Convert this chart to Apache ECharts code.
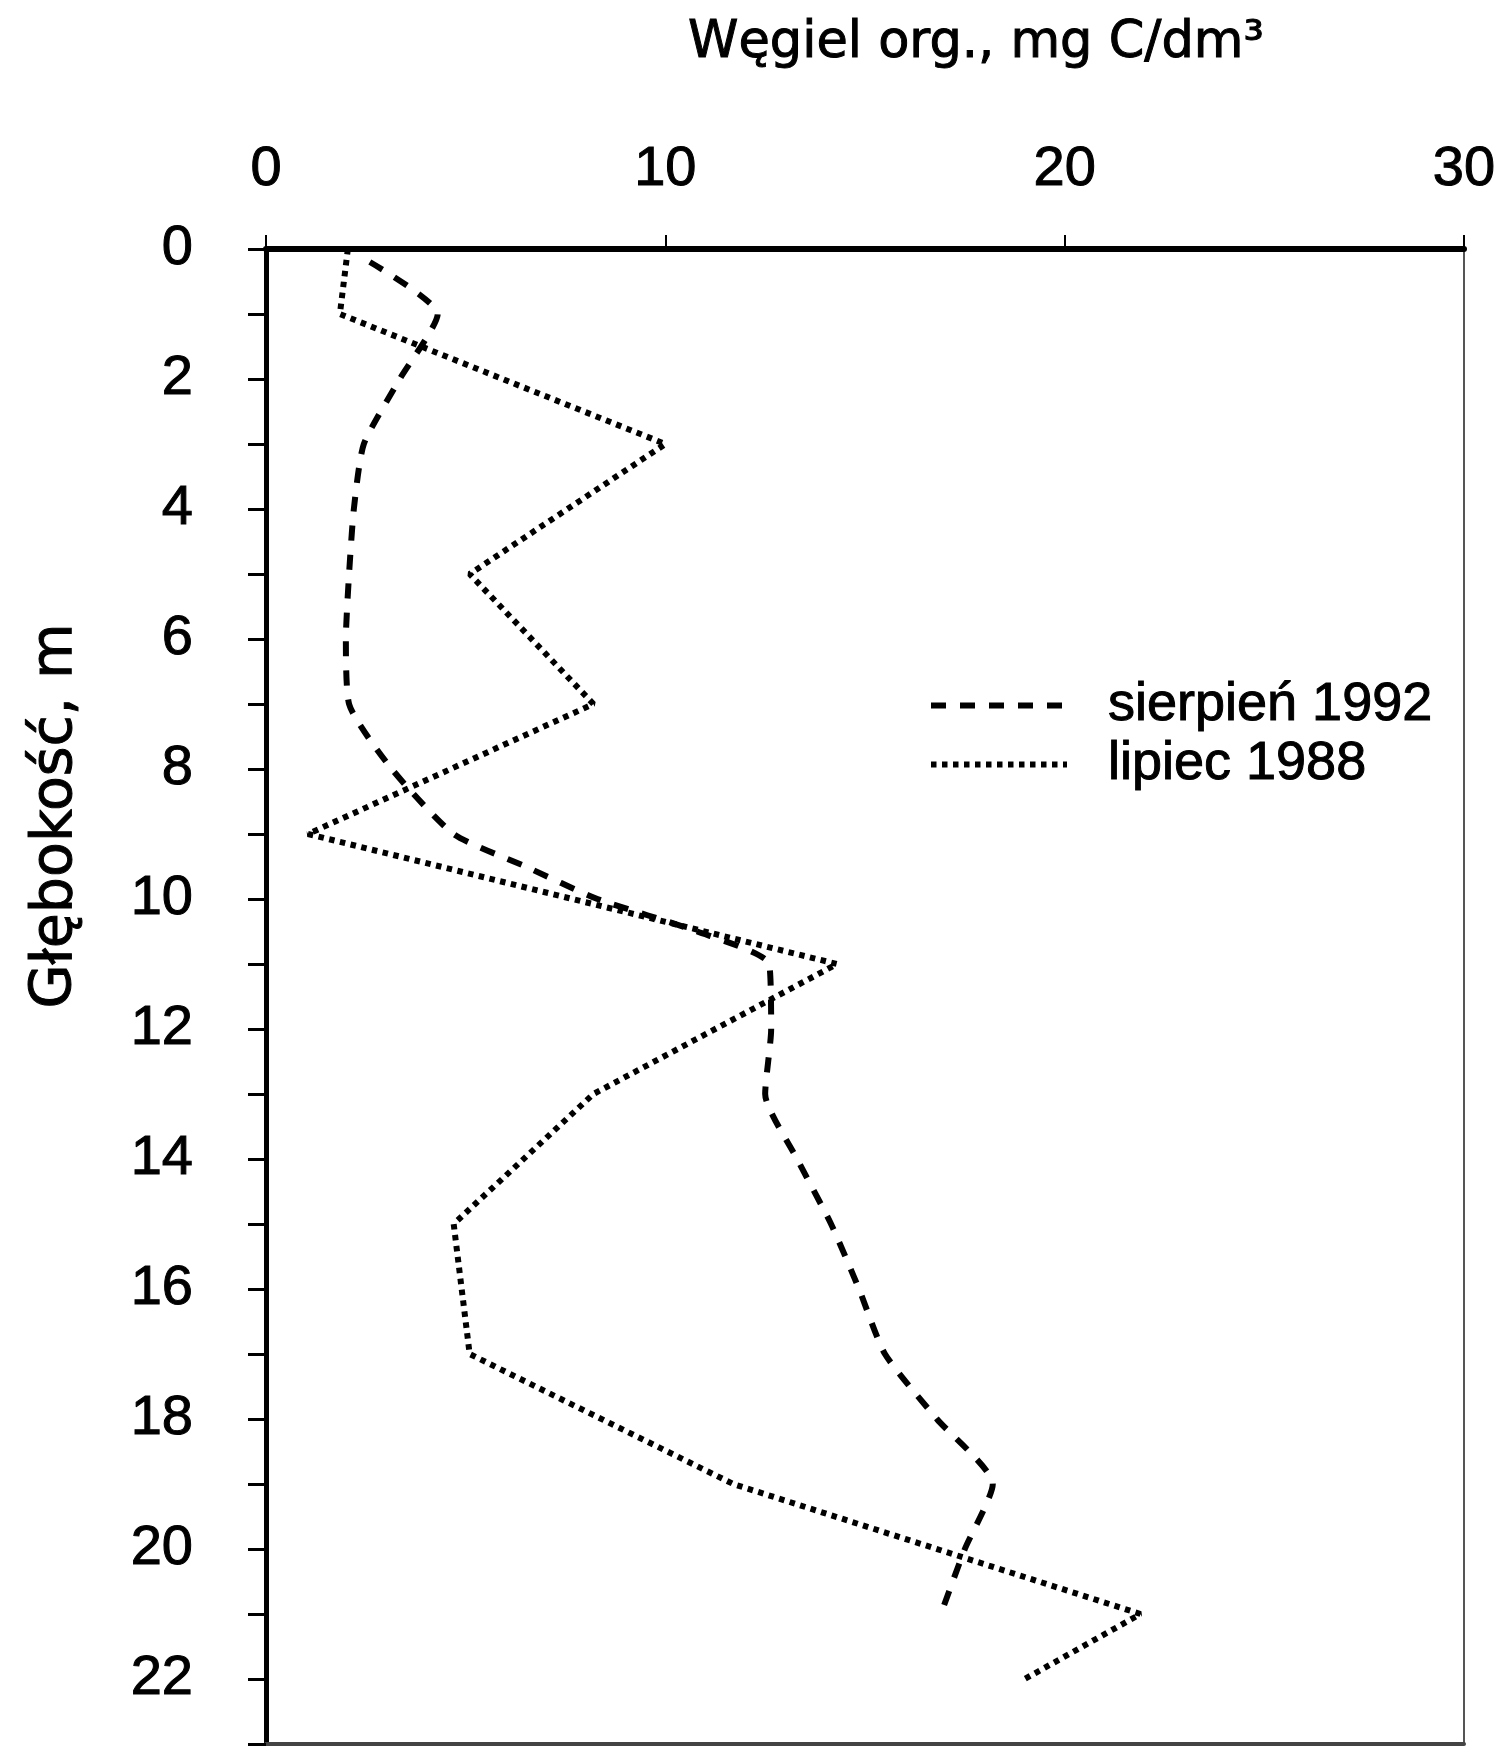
<!DOCTYPE html>
<html>
<head>
<meta charset="utf-8">
<script src="https://cdn.jsdelivr.net/npm/echarts@6/dist/echarts.min.js"></script>
<style>
  html, body { margin: 0; padding: 0; background: #fff; }
  #chart { width: 1500px; height: 1746px; }
</style>
</head>
<body>
<div id="chart"></div>
<script>
// sierpien 1992 (dashed)
const depthAug1992 = [0.2, 1, 2, 3, 4, 5, 6, 7, 8, 9, 9.5, 10, 10.5, 11, 12, 13, 14, 15, 16, 17, 18, 19, 20, 21];
const carbonAug1992 = [2.6, 4.3, 3.35, 2.45, 2.2, 2.08, 2.0, 2.08, 3.15, 4.7, 6.5, 8.3, 10.8, 12.6, 12.65, 12.5, 13.3, 14.15, 14.85, 15.5, 16.8, 18.2, 17.5, 16.9];

// lipiec 1988 (dotted)
const depthJul1988 = [0, 1, 3, 5, 7, 9, 11, 13, 15, 17, 19, 21, 22];
const carbonJul1988 = [2.05, 1.85, 10.0, 5.1, 8.2, 1.05, 14.3, 8.2, 4.7, 5.1, 11.7, 21.9, 19.0];

const seriesNames = ["sierpień 1992", "lipiec 1988"];
const carbonTicks = [0, 10, 20, 30];
const depthTicks = [0, 2, 4, 6, 8, 10, 12, 14, 16, 18, 20, 22];
const depthMax = 23;

const dashedStyle = { color: "#000", width: 6, type: [15, 14] };
const dottedStyle = { color: "#000", width: 6, type: [5.5, 5.5] };

const toPoints = (xs, ys) => xs.map((x, i) => [x, ys[i]]);

const chart = echarts.init(document.getElementById("chart"));

const option = {
  backgroundColor: "#fff",
  animation: false,
  textStyle: { fontFamily: "Liberation Sans, Arial, sans-serif", color: "#000" },
  grid: {
    left: 266,
    right: 36,
    top: 249,
    bottom: 2,
    show: true,
    borderColor: "#555",
    borderWidth: 2
  },
  legend: {
    orient: "vertical",
    left: 923,
    top: 673,
    itemWidth: 136,
    itemHeight: 20,
    itemGap: 4,
    itemStyle: { color: "rgba(0,0,0,0)", borderWidth: 0 },
    textStyle: {
      fontSize: 54,
      color: "#000",
      textBorderColor: "#000",
      textBorderWidth: 1,
      padding: [0, 0, 0, 36]
    },
    data: [
      { name: seriesNames[0], lineStyle: dashedStyle },
      { name: seriesNames[1], lineStyle: dottedStyle }
    ]
  },
  graphic: [
    {
      type: "text",
      x: 976,
      y: 44,
      style: {
        text: "Węgiel org., mg C/dm³",
        font: "51px DejaVu Sans",
        fill: "#000",
        stroke: "#000",
        lineWidth: 1,
        align: "center",
        verticalAlign: "middle"
      }
    },
    {
      type: "text",
      x: 56,
      y: 816,
      rotation: Math.PI / 2,
      style: {
        text: "Głębokość, m",
        font: "57px DejaVu Sans",
        fill: "#000",
        stroke: "#000",
        lineWidth: 1,
        align: "center",
        verticalAlign: "middle"
      }
    }
  ],
  xAxis: [
    {
      type: "value",
      position: "top",
      min: carbonTicks[0],
      max: carbonTicks[carbonTicks.length - 1],
      interval: 10,
      splitLine: { show: false },
      axisLine: { show: true, lineStyle: { color: "#000", width: 6 } },
      axisTick: { show: true, inside: false, length: 14, lineStyle: { color: "#000", width: 2 } },
      axisLabel: {
        fontSize: 56,
        color: "#000",
        margin: 51,
        textBorderColor: "#000",
        textBorderWidth: 1
      }
    },
    {
      type: "value",
      position: "bottom",
      min: carbonTicks[0],
      max: carbonTicks[carbonTicks.length - 1],
      splitLine: { show: false },
      axisLine: { show: true, lineStyle: { color: "#444", width: 4 } },
      axisTick: { show: false },
      axisLabel: { show: false }
    }
  ],
  yAxis: {
    type: "value",
    inverse: true,
    min: 0,
    max: depthMax,
    interval: 1,
    splitLine: { show: false },
    axisLine: { show: true, lineStyle: { color: "#000", width: 5 } },
    axisTick: { show: true, inside: false, length: 18, lineStyle: { color: "#000", width: 3 } },
    axisLabel: {
      fontSize: 56,
      color: "#000",
      margin: 73,
      textBorderColor: "#000",
      textBorderWidth: 1,
      formatter: (v) => (depthTicks.includes(v) ? String(v) : "")
    }
  },
  series: [
    {
      name: seriesNames[0],
      type: "line",
      xAxisIndex: 0,
      symbol: "none",
      smooth: 0.2,
      lineStyle: dashedStyle,
      itemStyle: { color: "#000" },
      data: toPoints(carbonAug1992, depthAug1992)
    },
    {
      name: seriesNames[1],
      type: "line",
      xAxisIndex: 0,
      symbol: "none",
      lineStyle: dottedStyle,
      itemStyle: { color: "#000" },
      data: toPoints(carbonJul1988, depthJul1988)
    }
  ]
};

chart.setOption(option);
</script>
</body>
</html>
